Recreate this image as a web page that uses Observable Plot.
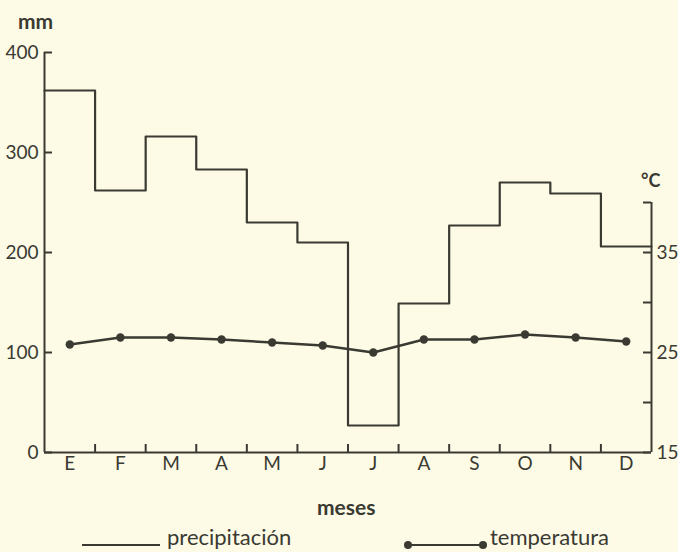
<!DOCTYPE html>
<html>
<head>
<meta charset="utf-8">
<script src="https://cdn.jsdelivr.net/npm/d3@7"></script>
<script src="https://cdn.jsdelivr.net/npm/@observablehq/plot@0.6"></script>
<style>
  html, body { margin: 0; padding: 0; background: #fdfbe6; }
  #wrap { position: relative; width: 678px; height: 552px; overflow: hidden; font-family: Lato, "Open Sans", sans-serif; color: #3a3a32; }
  #wrap svg { position: absolute; left: 0; top: 0; }
  .ttl { position: absolute; font-weight: bold; font-size: 21px; line-height: 1; white-space: nowrap; }
  #legend { position: absolute; left: 0; top: 530px; width: 678px; height: 22px; font-size: 22px; }
  .item { position: absolute; top: 0; height: 22px; }
  .item svg { position: static; vertical-align: top; }
  .item span { position: absolute; top: -4px; white-space: nowrap; line-height: 1; }
</style>
</head>
<body>
<div id="wrap"></div>
<script>
// ---- data ----
const months = ["E", "F", "M", "A", "M", "J", "J", "A", "S", "O", "N", "D"];
const precipitacion = [362, 262, 316, 283, 230, 210, 27, 149, 227, 270, 259, 206]; // mm
const temperatura = [25.8, 26.5, 26.5, 26.3, 26.0, 25.7, 25.0, 26.3, 26.3, 26.8, 26.5, 26.1]; // °C
const mmTicks = [0, 100, 200, 300, 400];
const tempTicks = [15, 20, 25, 30, 35, 40];
const tempLabels = [15, 25, 35];

// temperature axis shares the frame: 15 °C at 0 mm, 10 mm per °C
const T0 = 15, K = 10;
const toMM = t => (t - T0) * K;
const fromMM = v => v / K + T0;

const ink = "#3a3a32";
const TICK = 8;
const W = 678, H = 530, ML = 44, MR = 27, MT = 52, MB = 78;
const FW = W - ML - MR, FH = H - MT - MB;
const stepData = precipitacion.map((v, i) => ({i, v})).concat([{i: months.length, v: precipitacion[precipitacion.length - 1]}]);
const tempData = temperatura.map((t, i) => ({i: i + 0.5, v: toMM(t)}));

const plot = Plot.plot({
  width: W,
  height: H,
  marginLeft: ML,
  marginRight: MR,
  marginTop: MT,
  marginBottom: MB,
  style: {background: "transparent", fontFamily: "Lato, 'Open Sans', sans-serif", fontSize: "19px", color: ink, overflow: "visible"},
  x: {domain: [0, months.length]},
  y: {domain: [0, 400]},
  marks: [
    Plot.ruleX([0], {y1: 0, y2: 400, stroke: ink, strokeWidth: 2}),
    Plot.ruleX([months.length], {y1: 0, y2: toMM(40), stroke: ink, strokeWidth: 2}),
    Plot.ruleY([0], {x1: 0, x2: months.length, stroke: ink, strokeWidth: 2}),
    // left axis: inward ticks + labels
    Plot.tickY(mmTicks, {y: d => d, insetRight: FW - TICK, stroke: ink, strokeWidth: 2}),
    Plot.axisY(mmTicks, {anchor: "left", tickSize: 0, tickPadding: 6, fill: ink, label: null}),
    // right axis (°C): inward ticks + labels
    Plot.tickY(tempTicks.map(toMM), {y: d => d, insetLeft: FW - TICK, stroke: ink, strokeWidth: 2}),
    Plot.axisY(tempTicks.map(toMM), {anchor: "right", tickSize: 0, tickPadding: 5, fill: ink, label: null,
      tickFormat: v => tempLabels.includes(Math.round(fromMM(v))) ? String(Math.round(fromMM(v))) : ""}),
    // bottom: month boundary ticks pointing up, month labels centred
    Plot.tickX(d3.range(1, months.length), {x: d => d, insetTop: FH - TICK, stroke: ink, strokeWidth: 2}),
    Plot.axisX(months.map((m, i) => i + 0.5), {anchor: "bottom", tickSize: 0, tickPadding: 4, fill: ink, label: null,
      tickFormat: v => months[Math.floor(v)]}),
    Plot.line(stepData, {x: "i", y: "v", curve: "step-after", stroke: ink, strokeWidth: 2.2}),
    Plot.line(tempData, {x: "i", y: "v", stroke: ink, strokeWidth: 2.5}),
    Plot.dot(tempData, {x: "i", y: "v", r: 4.2, fill: ink, stroke: "none"})
  ]
});

const wrap = document.getElementById("wrap");
wrap.appendChild(plot);

function title(text, left, top, size) {
  const d = document.createElement("div");
  d.className = "ttl";
  d.textContent = text;
  d.style.left = left + "px";
  d.style.top = top + "px";
  if (size) d.style.fontSize = size + "px";
  wrap.appendChild(d);
}
title("mm", 18, 10);
title("°C", 641, 171, 18);
title("meses", 317, 496);

// legend below the chart
const legend = document.createElement("div");
legend.id = "legend";
legend.innerHTML = `
  <div class="item" style="left:82px">
    <svg width="80" height="22"><line x1="0" y1="15" x2="78" y2="15" stroke="${ink}" stroke-width="2.2"/></svg>
    <span style="left:85px">precipitación</span>
  </div>
  <div class="item" style="left:402px">
    <svg width="86" height="22"><line x1="6" y1="15" x2="81" y2="15" stroke="${ink}" stroke-width="2.2"/>
      <circle cx="6" cy="15" r="4" fill="${ink}"/><circle cx="81" cy="15" r="4" fill="${ink}"/></svg>
    <span style="left:88px">temperatura</span>
  </div>`;
wrap.appendChild(legend);
</script>
</body>
</html>
